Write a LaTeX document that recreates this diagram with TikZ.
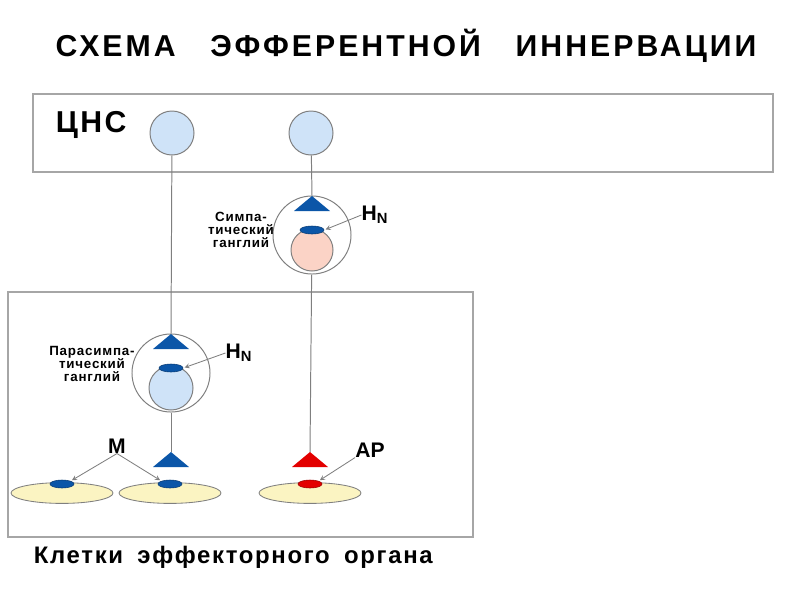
\documentclass[tikz,border=0pt]{standalone}
\usepackage{fontspec}
\setmainfont{Liberation Sans}
\usetikzlibrary{shapes.geometric}

\definecolor{nerveblue}{HTML}{0B56A8}
\definecolor{nervered}{HTML}{E30000}
\definecolor{somablue}{HTML}{CFE3F8}
\definecolor{somapink}{HTML}{FBD3C6}
\definecolor{cellyellow}{HTML}{FBF4C2}
\definecolor{linegray}{HTML}{7F7F7F}
\definecolor{boxgray}{HTML}{A6A6A6}

\begin{document}
\begin{tikzpicture}[x=0.025cm, y=-0.025cm, >=stealth]
  % definition of the basic styles.
  \tikzset{
    fibre/.style={draw=linegray, line width=0.7pt},
    pointer/.style={draw=linegray, line width=0.6pt, ->, shorten >=1pt},
    soma/.style={circle, draw=linegray, line width=0.7pt, minimum size=1.1cm, inner sep=0pt},
    ganglion/.style={circle, draw=linegray, line width=0.7pt, minimum size=1.95cm, inner sep=0pt},
    receptor/.style={ellipse, draw=nerveblue!70!black, line width=0.4pt, minimum width=0.6cm, minimum height=0.2cm, inner sep=0pt},
    effcell/.style={ellipse, draw=linegray, line width=0.6pt, fill=cellyellow, minimum width=2.55cm, minimum height=0.52cm, inner sep=0pt},
    gangtext/.style={align=center, font=\bfseries\fontsize{9.5}{9.3}\selectfont\addfontfeature{LetterSpace=6}},
    rlabel/.style={font=\bfseries\fontsize{15}{15}\selectfont, inner sep=0pt}
  }
  \useasboundingbox (0,0) rectangle (800,600);

  % Title
  \node[font=\bfseries\fontsize{21.5}{22}\selectfont\addfontfeature{LetterSpace=10}] (title) at (406,46)
    {СХЕМА\hspace{1.15em}ЭФФЕРЕНТНОЙ\hspace{1.15em}ИННЕРВАЦИИ};

  % The two boxes: CNS and the effector organ
  \draw[boxgray, line width=0.8pt] (33,94) rectangle (773,172);
  \node[font=\bfseries\fontsize{21.5}{22}\selectfont\addfontfeature{LetterSpace=8}, anchor=west] (cns) at (51,125) {ЦНС};
  \draw[boxgray, line width=0.8pt] (8,292) rectangle (473,537);
  \node[font=\bfseries\fontsize{17}{18}\selectfont\addfontfeature{LetterSpace=7}, anchor=west] (organ) at (29,557)
    {Клетки\hspace{0.6em}эффекторного\hspace{0.6em}органа};

  % Central neurons
  \node[soma, fill=somablue] (cnsA) at (172,133) {};
  \node[soma, fill=somablue] (cnsB) at (311,133) {};

  % Ganglia
  \node[ganglion] (gangP) at (171,373) {};
  \node[ganglion] (gangS) at (312,235) {};
  \node[soma, fill=somablue] (somaP) at (171,388) {};
  \node[soma, fill=somapink, minimum size=1.05cm] (somaS) at (312,250) {};
  \node[receptor, fill=nerveblue] (recP) at (171,368) {};
  \node[receptor, fill=nerveblue] (recS) at (312,230) {};

  % Nerve endings (apex of each triangle)
  \coordinate (endP1) at (171,334);
  \coordinate (endS1) at (312,196);
  \coordinate (endP2) at (171,452);
  \coordinate (endS2) at (310,452);
  \foreach \e/\c in {endP1/nerveblue, endS1/nerveblue, endP2/nerveblue, endS2/nervered}
    \fill[\c] (\e) -- ++(-18,15) -- ++(36,0) -- cycle;

  % Fibres
  \draw[fibre] (cnsA) -- (endP1);
  \draw[fibre] (gangP) -- (endP2);
  \draw[fibre] (cnsB) -- (endS1);
  \draw[fibre] (gangS) -- (endS2);

  % Effector cells with their receptors
  \foreach \n/\x/\c in {1/62/nerveblue, 2/170/nerveblue, 3/310/nervered} {
    \node[effcell] (cell\n) at (\x,493) {};
    \node[receptor, fill=\c, draw=\c!70!black] (rec\n) at (\x,484) {};
  }

  % Ganglion labels
  \node[gangtext] (labS) at (241,230) {Симпа-\\тический\\ганглий};
  \node[gangtext] (labP) at (92,364) {Парасимпа-\\тический\\ганглий};

  % Receptor labels
  \node[rlabel] (hnS) at (375,215) {H\textsubscript{N}};
  \node[rlabel] (hnP) at (239,353) {H\textsubscript{N}};
  \node[rlabel] (mLab) at (117,446) {M};
  \node[rlabel] (apLab) at (370,450) {AP};
  \draw[pointer] (hnS.west) -- (recS.east);
  \draw[pointer] (hnP.west) -- (recP.east);
  \draw[pointer] (mLab.south) -- (rec1.north east);
  \draw[pointer] (mLab.south) -- (rec2.north west);
  \draw[pointer] (apLab.south west) -- (rec3.north east);
\end{tikzpicture}
\end{document}
